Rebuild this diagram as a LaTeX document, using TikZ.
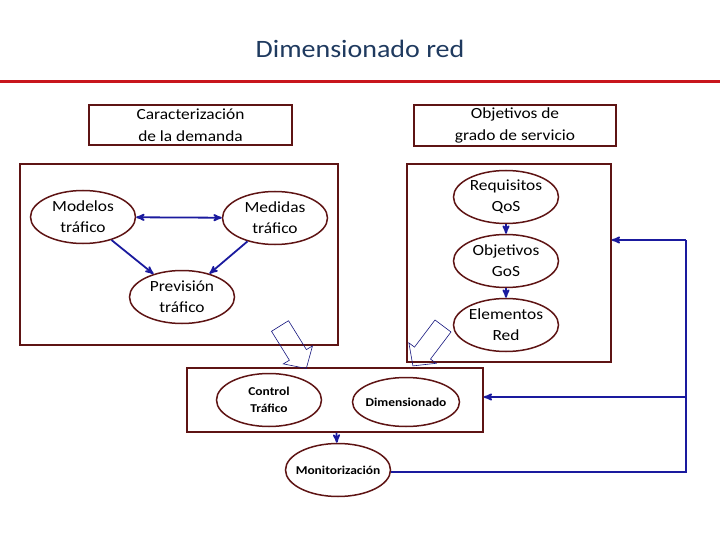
\documentclass[tikz,border=0pt]{standalone}
\usepackage{fontspec}
\setmainfont{Carlito}[FakeStretch=1.12]
\usetikzlibrary{shapes.geometric,arrows}
\definecolor{framered}{HTML}{5E1414}
\definecolor{flowblue}{HTML}{1A1A9E}
\definecolor{titleblue}{HTML}{1F3A5F}
\definecolor{rulered}{HTML}{C8161D}

\begin{document}
\begin{tikzpicture}[x=1pt,y=-1pt,>=stealth',
  box/.style={draw=framered,line width=1.5pt,inner sep=0pt,align=center,
              font=\fontsize{15.5}{22}\selectfont},
  task/.style={ellipse,draw=framered,line width=1.5pt,fill=white,inner sep=0pt,
               minimum width=105pt,minimum height=53pt,align=center,
               font=\fontsize{15.5}{21}\selectfont},
  small/.style={task,inner xsep=-8pt,font=\bfseries\fontsize{12}{16.5}\selectfont},
  flow/.style={->,draw=flowblue,line width=1.8pt},
  bigarrow/.style={draw=flowblue!80!black,line width=0.6pt,line join=miter}]

  \useasboundingbox (0,0) rectangle (720,540);

  % title and rule
  \node[font=\fontsize{25}{30}\selectfont,text=titleblue] (title) at (360,49) {Dimensionado red};
  \draw[rulered,line width=3pt] (0,82) -- (720,82);

  % frames
  \node[box,minimum width=203pt,minimum height=40pt] (demanda) at (190.5,125)
       {Caracterización\\de la demanda};
  \node[box,minimum width=202pt,minimum height=41pt] (servicio) at (515,125.5)
       {Objetivos de\\grado de servicio};
  \node[box,minimum width=318pt,minimum height=181pt] (frameL) at (179,254.5) {};
  \node[box,minimum width=204pt,minimum height=198pt] (frameR) at (509,263) {};
  \node[box,minimum width=296pt,minimum height=64pt]  (frameB) at (335,400) {};

  % block arrows into the lower frame
  \draw[bigarrow] (288.5,320.7) -- (306.4,349.6) -- (312.5,345.9) -- (306.3,368.5)
                  -- (283.3,363.9) -- (289.4,360.2) -- (271.5,331.3) -- cycle;
  \draw[bigarrow] (451.0,332.0) -- (430.5,359.1) -- (436.1,363.3) -- (412.9,365.9)
                  -- (408.9,342.9) -- (414.5,347.1) -- (435.0,320.0) -- cycle;

  % tasks
  \node[task] (modelos)   at (83,217)  {Modelos\\tráfico};
  \node[task] (medidas)   at (275,218) {Medidas\\tráfico};
  \node[task] (prevision) at (182,297) {Previsión\\tráfico};
  \node[task] (requisitos) at (506,197) {Requisitos\\QoS};
  \node[task] (objetivos)  at (506,261) {Objetivos\\GoS};
  \node[task] (elementos)  at (506,325) {Elementos\\Red};
  \node[small] (control) at (269,400) {Control\\Tráfico};
  \node[small,minimum width=107pt,minimum height=49pt] (dimens) at (406,402) {Dimensionado};
  \node[small] (monit) at (338,470) {Monitorización};

  \coordinate (rtop) at (686,240);
  \coordinate (rmid) at (686,397);
  \coordinate (rbot) at (686,472);

  \path[flow] (modelos) edge[<->] (medidas)
                        edge (prevision)
              (medidas) edge (prevision)
              (requisitos) edge (objetivos)
              (objetivos) edge (elementos)
              (frameB) edge (monit);
  \draw[flow,-] (monit.east |- rbot) -- (rbot) -- (rtop);
  \draw[flow] (rtop) -- (frameR.east |- rtop);
  \draw[flow] (rmid) -- (frameB.east |- rmid);
\end{tikzpicture}
\end{document}
